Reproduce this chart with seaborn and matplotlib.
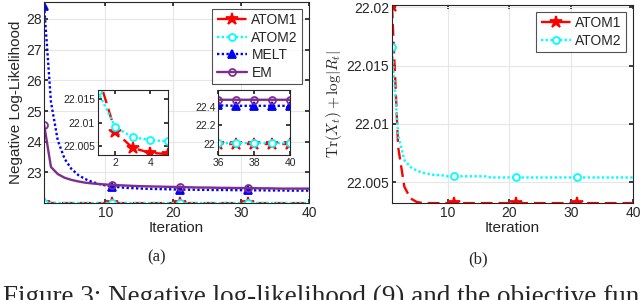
"""Negative log-likelihood vs iteration (a) and ATOM objective (b), with zoomed insets."""
import matplotlib
matplotlib.use("Agg")
import matplotlib.pyplot as plt
import seaborn as sns

# --- data -------------------------------------------------------------------
ITERS = list(range(1, 41))

ATOM1 = [22.0201, 22.0080, 22.0046, 22.0036, 22.0033, 22.0032, 22.0032, 22.0032,
         22.0032, 22.0032, 22.0032, 22.0032, 22.0032, 22.0032, 22.0032, 22.0032,
         22.0032, 22.0032, 22.0032, 22.0032, 22.0032, 22.0032, 22.0032, 22.0032,
         22.0032, 22.0032, 22.0032, 22.0032, 22.0032, 22.0032, 22.0032, 22.0032,
         22.0032, 22.0032, 22.0032, 22.0032, 22.0032, 22.0032, 22.0032, 22.0032]
ATOM2 = [22.0166, 22.0090, 22.0069, 22.0063, 22.0060, 22.0058, 22.0057, 22.0056,
         22.0056, 22.0055, 22.0055, 22.0055, 22.0055, 22.0055, 22.0055, 22.0055,
         22.0054, 22.0054, 22.0054, 22.0054, 22.0054, 22.0054, 22.0054, 22.0054,
         22.0054, 22.0054, 22.0054, 22.0054, 22.0054, 22.0054, 22.0054, 22.0054,
         22.0054, 22.0054, 22.0054, 22.0054, 22.0054, 22.0054, 22.0054, 22.0054]
MELT = [28.42, 25.30, 24.05, 23.45, 23.12, 22.92, 22.79, 22.70, 22.63, 22.58,
        22.54, 22.52, 22.50, 22.49, 22.48, 22.47, 22.465, 22.46, 22.455, 22.45,
        22.445, 22.44, 22.44, 22.435, 22.435, 22.43, 22.43, 22.43, 22.425, 22.425,
        22.42, 22.42, 22.42, 22.415, 22.415, 22.415, 22.41, 22.41, 22.41, 22.41]
EM = [24.55, 23.18, 22.95, 22.83, 22.76, 22.71, 22.67, 22.645, 22.625, 22.61,
      22.595, 22.585, 22.575, 22.565, 22.555, 22.55, 22.545, 22.54, 22.535, 22.53,
      22.525, 22.52, 22.515, 22.51, 22.51, 22.505, 22.5, 22.5, 22.495, 22.495,
      22.49, 22.49, 22.485, 22.485, 22.48, 22.475, 22.475, 22.475, 22.475, 22.475]

SERIES = {
    "ATOM1": dict(y=ATOM1, color="#ff0000", linestyle=(0, (5, 2.5)), marker="*",
                  ms=9, mfc="#ff0000"),
    "ATOM2": dict(y=ATOM2, color="#00ffff", linestyle=(0, (1, 1)), marker="o",
                  ms=5, mfc="white"),
    "MELT": dict(y=MELT, color="#0000ff", linestyle=(0, (1, 1)), marker="^",
                 ms=6, mfc="#0000ff"),
    "EM": dict(y=EM, color="#7e2f8e", linestyle="-", marker="o",
               ms=5, mfc="none"),
}

sns.set_theme(style="whitegrid")
plt.rcParams.update({
    "font.family": ["Liberation Sans", "DejaVu Sans"],
    "mathtext.fontset": "cm",
    "axes.edgecolor": "#262626",
    "axes.linewidth": 0.8,
    "grid.color": "#e6e6e6",
    "grid.linewidth": 0.8,
    "xtick.direction": "in",
    "ytick.direction": "in",
    "xtick.major.size": 3,
    "ytick.major.size": 3,
    "xtick.color": "#262626",
    "ytick.color": "#262626",
})

fig = plt.figure(figsize=(6.4, 3.0), dpi=100)
ax_a = fig.add_axes([0.069, 0.323, 0.414, 0.670])
ax_b = fig.add_axes([0.6125, 0.323, 0.3765, 0.660])


def draw(ax, names, every=10, lw=1.7, ms_scale=1.0):
    for name in names:
        s = SERIES[name]
        sns.lineplot(x=ITERS, y=s["y"], ax=ax, color=s["color"], linestyle=s["linestyle"],
                     linewidth=lw, marker=s["marker"], markersize=s["ms"] * ms_scale,
                     markerfacecolor=s["mfc"], markeredgecolor=s["color"],
                     markeredgewidth=1.3, markevery=every, label=name)


def style(ax, fs=10):
    for sp in ax.spines.values():
        sp.set_visible(True)
        sp.set_color("#262626")
    ax.tick_params(labelsize=fs, pad=2, top=True, right=True, bottom=True, left=True)


# --- (a) ---------------------------------------------------------------------
draw(ax_a, ["ATOM1", "ATOM2", "MELT", "EM"])
ax_a.set_xlim(1, 40)
ax_a.set_ylim(22.0032, 28.55)
ax_a.set_xticks([10, 20, 30, 40])
ax_a.set_yticks([23, 24, 25, 26, 27, 28])
ax_a.set_xlabel("Iteration", fontsize=11, labelpad=1)
ax_a.set_ylabel("Negative Log-Likelihood", fontsize=11, labelpad=2)
style(ax_a)
leg = ax_a.legend(loc="upper right", fontsize=10, frameon=True, fancybox=False,
                  edgecolor="#262626", handlelength=2.2, borderpad=0.3,
                  labelspacing=0.25, handletextpad=0.3, borderaxespad=0.5)
leg.get_frame().set_linewidth(0.8)

ins1 = fig.add_axes([0.153, 0.483, 0.109, 0.217])
draw(ins1, ["ATOM1", "ATOM2"], every=1)
ins1.set_xlim(1, 5)
ins1.set_ylim(22.0031, 22.0169)
ins1.set_xticks([2, 4])
ins1.set_yticks([22.005, 22.01, 22.015])
ins1.set_yticklabels(["22.005", "22.01", "22.015"])
ins1.grid(False)
ins1.set_facecolor("white")
ins1.get_legend().remove()
style(ins1, fs=7.5)

ins2 = fig.add_axes([0.341, 0.483, 0.1125, 0.217])
draw(ins2, ["ATOM1", "ATOM2", "MELT", "EM"], every=1)
ins2.set_xlim(36, 40)
ins2.set_ylim(21.88, 22.58)
ins2.set_xticks([36, 38, 40])
ins2.set_yticks([22.0, 22.2, 22.4])
ins2.set_yticklabels(["22", "22.2", "22.4"])
ins2.grid(False)
ins2.set_facecolor("white")
ins2.get_legend().remove()
style(ins2, fs=7.5)

# --- (b) ---------------------------------------------------------------------
draw(ax_b, ["ATOM1", "ATOM2"])
ax_b.set_xlim(1, 40)
ax_b.set_ylim(22.0032, 22.0202)
ax_b.set_xticks([10, 20, 30, 40])
ax_b.set_yticks([22.005, 22.01, 22.015, 22.02])
ax_b.set_yticklabels(["22.005", "22.01", "22.015", "22.02"])
ax_b.set_xlabel("Iteration", fontsize=11, labelpad=1)
ax_b.set_ylabel(r"$\mathrm{Tr}(X_t)+\log|R_t|$", fontsize=11, labelpad=2)
style(ax_b)
leg = ax_b.legend(loc="upper right", fontsize=10, frameon=True, fancybox=False,
                  edgecolor="#262626", handlelength=2.2, borderpad=0.3,
                  labelspacing=0.25, handletextpad=0.3, borderaxespad=0.5)
leg.get_frame().set_linewidth(0.8)

# --- sub-captions and figure caption (cut by the bottom edge, as in the source) --
serif = ["Liberation Serif", "DejaVu Serif"]
fig.text(157 / 640, 1 - 257 / 300, "(a)", ha="center", va="center", fontsize=12, family=serif)
fig.text(478 / 640, 1 - 259 / 300, "(b)", ha="center", va="center", fontsize=12, family=serif)
fig.text(0.004, -0.012, "Figure 3: Negative log-likelihood (9) and the objective function",
         ha="left", va="baseline", fontsize=19.5, family=serif)

fig.savefig("out.png", dpi=100)
